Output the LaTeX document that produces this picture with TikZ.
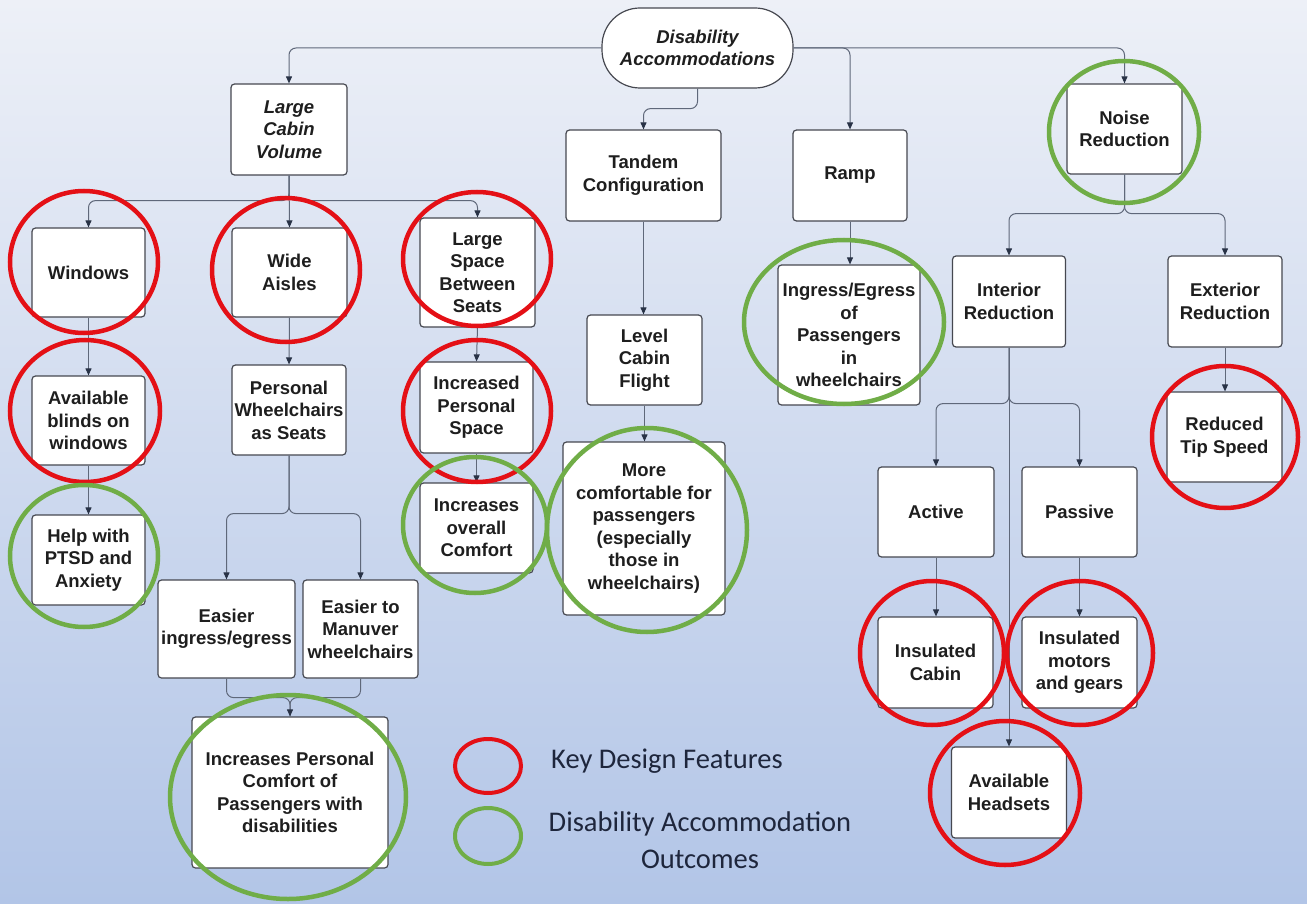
\documentclass[tikz,border=0pt]{standalone}
\usepackage{fontspec}
\setmainfont{Liberation Sans}
\newfontfamily\legendfont{Carlito}
\usetikzlibrary{arrows.meta}
\definecolor{bgtop}{RGB}{237,240,247}
\definecolor{bgbot}{RGB}{178,197,231}
\definecolor{keyred}{RGB}{228,16,22}
\definecolor{keygreen}{RGB}{112,173,71}
\definecolor{boxline}{RGB}{70,72,80}
\definecolor{connline}{RGB}{95,104,122}
\definecolor{tipcol}{RGB}{40,50,70}
\definecolor{txt}{RGB}{30,30,30}
\definecolor{legtxt}{RGB}{30,38,60}
\begin{document}
\begin{tikzpicture}[x=1pt,y=-1pt,
  box/.style={draw=boxline, fill=white, line width=1.2pt, rounded corners=3.5pt, align=center, inner sep=0pt, text=txt, font=\bfseries\fontsize{18.5}{22.5}\selectfont},
  conn/.style={draw=connline, line width=1pt, rounded corners=7pt, -{Triangle[width=6pt,length=7pt,color=tipcol]}},
  link/.style={draw=connline, line width=1pt, rounded corners=7pt},
  redring/.style={draw=keyred, line width=4.5pt},
  greenring/.style={draw=keygreen, line width=4.5pt},
  legend/.style={text=legtxt, font=\legendfont\fontsize{28.5}{37}\selectfont, inner sep=0pt},
]
\useasboundingbox (0,0) rectangle (1307,904);
\fill[top color=bgtop, bottom color=bgbot] (0,0) rectangle (1307,904);

% nodes
\node[box, rounded corners=38pt, minimum width=191, minimum height=80, font=\bfseries\itshape\fontsize{18.5}{22.5}\selectfont] (da) at (697.5,48) {Disability\\Accommodations};
\node[box, minimum width=116, minimum height=91, font=\bfseries\itshape\fontsize{18.5}{22.5}\selectfont] (lcv) at (289,129.5) {Large\\Cabin\\Volume};
\node[box, minimum width=155, minimum height=91] (tc) at (643.5,175.5) {Tandem\\Configuration};
\node[box, minimum width=114, minimum height=91] (ramp) at (850,175.5) {Ramp};
\node[box, minimum width=115, minimum height=90] (nr) at (1124.5,129) {Noise\\Reduction};

\node[box, minimum width=113, minimum height=89] (win) at (88.5,272.5) {Windows};
\node[box, minimum width=115, minimum height=89] (wa) at (289.5,272.5) {Wide\\Aisles};
\node[box, minimum width=115, minimum height=109] (lsbs) at (477.5,272.5) {Large\\Space\\Between\\Seats};
\node[box, minimum width=113, minimum height=89] (avb) at (88.5,420.5) {Available\\blinds on\\windows};
\node[box, minimum width=113, minimum height=90] (ptsd) at (88.5,560) {Help with\\PTSD and\\Anxiety};
\node[box, minimum width=114, minimum height=90] (pws) at (289,410) {Personal\\Wheelchairs\\as Seats};
\node[box, minimum width=137, minimum height=98] (ei) at (226.5,629) {Easier\\ingress/egress};
\node[box, minimum width=115, minimum height=98] (em) at (360.5,629) {Easier to\\Manuver\\wheelchairs};
\node[box, minimum width=196, minimum height=151] (ipc) at (290,792.5) {Increases Personal\\Comfort of\\Passengers with\\disabilities};
\node[box, minimum width=113, minimum height=91] (ips) at (476.5,407.5) {Increased\\Personal\\Space};
\node[box, minimum width=113, minimum height=90] (ioc) at (476.5,528) {Increases\\overall\\Comfort};
\node[box, minimum width=115, minimum height=90] (lcf) at (644.5,360) {Level\\Cabin\\Flight};
\node[box, minimum width=162, minimum height=173] (mc) at (644,528.5) {More\\comfortable for\\passengers\\(especially\\those in\\wheelchairs)};
\node[box, minimum width=142, minimum height=140] (ie) at (849,335) {Ingress/Egress\\of\\Passengers\\in\\wheelchairs};
\node[box, minimum width=113, minimum height=91] (ir) at (1009,301.5) {Interior\\Reduction};
\node[box, minimum width=114, minimum height=91] (er) at (1225,301.5) {Exterior\\Reduction};
\node[box, minimum width=115, minimum height=90] (rts) at (1224.5,437) {Reduced\\Tip Speed};
\node[box, minimum width=116, minimum height=90] (act) at (936,512) {Active};
\node[box, minimum width=115, minimum height=90] (pas) at (1079.5,512) {Passive};
\node[box, minimum width=115, minimum height=91] (ic) at (935.5,662.5) {Insulated\\Cabin};
\node[box, minimum width=115, minimum height=91] (im) at (1079.5,662.5) {Insulated\\motors\\and gears};
\node[box, minimum width=115, minimum height=91] (ah) at (1009,792.5) {Available\\Headsets};

% connectors
\draw[conn] (da.west) -| (lcv.north);
\draw[conn] (da.south) -- ++(0,20) -| (tc.north);
\draw[conn] (da.east) -| (ramp.north);
\draw[conn] (da.east) -| (nr.north);

\draw[conn] (lcv.south) -- ++(0,25) -| (win.north);
\draw[conn] (lcv.south) -- (wa.north);
\draw[conn] (lcv.south) -- ++(0,25) -| (lsbs.north);
\draw[conn] (win.south) -- (avb.north);
\draw[conn] (avb.south) -- (ptsd.north);
\draw[conn] (wa.south) -- (pws.north);
\draw[conn] (pws.south) -- ++(0,58) -| (ei.north);
\draw[conn] (pws.south) -- ++(0,58) -| (em.north);
\draw[link] (ei.south) -- ++(0,19) -| (ipc.north);
\draw[conn] (em.south) -- ++(0,19) -| (ipc.north);
\draw[conn] (lsbs.south) -- (ips.north);
\draw[conn] (ips.south) -- (ioc.north);

\draw[conn] (tc.south) -- (tc.south |- lcf.north);
\draw[conn] (lcf.south) -- (lcf.south |- mc.north);
\draw[conn] (ramp.south) -- (ramp.south |- ie.north);

\draw[conn] (nr.south) -- ++(0,39) -| (ir.north);
\draw[conn] (nr.south) -- ++(0,39) -| (er.north);
\draw[conn] (er.south) -- (er.south |- rts.north);
\draw[conn] (ir.south) -- ++(0,56) -| (act.north);
\draw[conn] (ir.south) -- ++(0,56) -| (pas.north);
\draw[conn] (ir.south) -- (ah.north);
\draw[conn] (act.south) -- (act.south |- ic.north);
\draw[conn] (pas.south) -- (pas.south |- im.north);

% rings
\draw[greenring] (1124,132) ellipse [x radius=75, y radius=71];
\draw[redring] (1225,437) ellipse [x radius=73, y radius=71];
\draw[redring] (932,653) ellipse [x radius=72, y radius=72];
\draw[redring] (1080,653) ellipse [x radius=73, y radius=72];
\draw[redring] (1005,793) ellipse [x radius=75, y radius=72];
\draw[greenring] (844,322) ellipse [x radius=100, y radius=82];
\draw[greenring] (647,530) ellipse [x radius=100, y radius=102];
\draw[redring] (84,262) ellipse [x radius=74, y radius=71];
\draw[redring] (286,270) ellipse [x radius=74, y radius=72];
\draw[redring] (477,259) ellipse [x radius=74, y radius=67];
\draw[redring] (85,411) ellipse [x radius=75, y radius=71];
\draw[greenring] (84,556) ellipse [x radius=74, y radius=71];
\draw[greenring] (288,797) ellipse [x radius=118, y radius=102];
\draw[redring] (477,411) ellipse [x radius=74, y radius=71];
\draw[greenring] (475,525) ellipse [x radius=72, y radius=68];

% legend
\draw[draw=keyred, line width=4pt] (488,766) ellipse [x radius=33, y radius=27];
\draw[draw=keygreen, line width=4pt] (488,836) ellipse [x radius=33, y radius=28];
\node[legend, anchor=base west] (k1) at (551,768) {Key Design Features};
\node[legend, align=center] (k2) at (700,840) {Disability Accommodation\\Outcomes};
\end{tikzpicture}
\end{document}
